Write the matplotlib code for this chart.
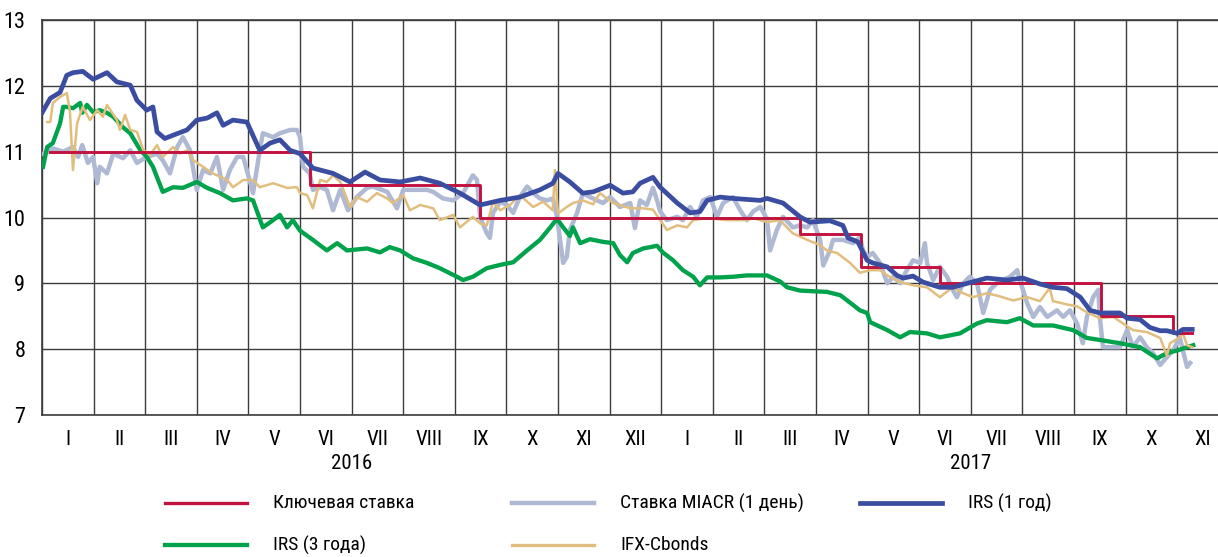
import matplotlib
matplotlib.use("Agg")
import matplotlib.pyplot as plt
from matplotlib.lines import Line2D
from matplotlib import font_manager

# month positions: 0 = start of Jan 2016, 12 = start of Jan 2017
key_m = [0.15, 5.19, 8.49, 14.69, 15.87, 17.40, 20.52, 21.92, 22.29]
key_v = [11.0, 10.5, 10.0, 9.75, 9.25, 9.0, 8.5, 8.25, 8.25]

miacr_m = [0.02, 0.21, 0.41, 0.6, 0.7, 0.78, 0.89, 0.99, 1.07, 1.12, 1.26, 1.38,
           1.57, 1.71, 1.84, 2.03, 2.23, 2.34, 2.48, 2.62, 2.73, 2.87, 3.0, 3.12,
           3.26, 3.39, 3.51, 3.64, 3.78, 3.9, 4.09, 4.22, 4.28, 4.48, 4.61, 4.81,
           4.94, 5.0, 5.06, 5.19, 5.25, 5.39, 5.52, 5.64, 5.78, 5.93, 6.1, 6.3,
           6.41, 6.69, 6.88, 7.0, 7.19, 7.46, 7.58, 7.77, 7.97, 8.16, 8.35, 8.43,
           8.49, 8.62, 8.68, 8.74, 8.88, 9.01, 9.13, 9.26, 9.4, 9.52, 9.65, 9.79,
           9.9, 9.98, 10.04, 10.1, 10.17, 10.23, 10.37, 10.48, 10.62, 10.76, 10.87,
           11.01, 11.2, 11.4, 11.49, 11.59, 11.72, 11.84, 11.92, 11.98, 12.11,
           12.31, 12.42, 12.56, 12.69, 12.81, 12.95, 13.08, 13.2, 13.39, 13.53,
           13.66, 13.78, 13.92, 14.05, 14.11, 14.24, 14.36, 14.55, 14.69, 14.83,
           14.94, 15.08, 15.14, 15.27, 15.33, 15.52, 15.72, 15.85, 15.91, 15.99,
           16.1, 16.24, 16.38, 16.5, 16.63, 16.76, 16.88, 17.02, 17.11, 17.15,
           17.27, 17.4, 17.54, 17.65, 17.73, 17.85, 17.98, 18.12, 18.24, 18.37,
           18.5, 18.62, 18.76, 18.9, 18.95, 19.09, 19.21, 19.34, 19.48, 19.67,
           19.79, 19.92, 20.06, 20.17, 20.25, 20.37, 20.47, 20.5, 20.56, 20.76,
           20.89, 21.03, 21.14, 21.28, 21.41, 21.53, 21.67, 21.8, 21.92, 22.05,
           22.11, 22.19, 22.25]
miacr_v = [10.97, 11.05, 11.0, 11.07, 10.92, 11.1, 10.83, 10.92, 10.52, 10.77, 10.67, 10.97,
           10.9, 11.02, 10.83, 10.92, 10.97, 10.87, 10.67, 11.07, 11.22, 11.02, 10.42, 10.72,
           10.67, 10.92, 10.42, 10.72, 10.92, 10.92, 10.37, 11.02, 11.28, 11.22, 11.28, 11.33,
           11.33, 11.22, 10.77, 10.67, 10.42, 10.46, 10.42, 10.11, 10.42, 10.11, 10.31, 10.45,
           10.47, 10.39, 10.14, 10.42, 10.42, 10.42, 10.39, 10.29, 10.26, 10.37, 10.64, 10.57,
           10.01, 9.76, 9.69, 10.07, 10.24, 10.19, 10.07, 10.31, 10.47, 10.37, 10.29, 10.26,
           10.29, 10.01, 9.66, 9.31, 9.4, 9.81, 10.07, 10.37, 10.31, 10.26, 10.22,
           10.31, 10.16, 10.22, 9.84, 10.26, 10.19, 10.45, 10.26, 10.09, 9.96,
           10.01, 9.96, 10.16, 10.01, 10.26, 10.31, 10.01, 10.22, 10.31, 10.11,
           9.96, 10.09, 10.16, 9.98, 9.5, 9.81, 10.01, 9.85, 9.88, 9.85,
           9.96, 9.66, 9.27, 9.5, 9.66, 9.66, 9.61, 9.7, 9.5, 9.4,
           9.46, 9.31, 9.0, 9.1, 9.0, 9.2, 9.35, 9.31, 9.61, 9.31,
           9.05, 9.25, 9.1, 8.9, 8.79, 9.0, 9.1, 9.0, 8.55, 8.9,
           9.0, 9.05, 9.1, 9.2, 9.05, 8.7, 8.49, 8.64, 8.49, 8.59,
           8.49, 8.59, 8.39, 8.09, 8.49, 8.79, 8.9, 8.49, 8.03, 8.03,
           8.03, 8.29, 8.03, 8.18, 8.03, 7.94, 7.76, 7.88, 7.98, 8.18,
           7.98, 7.73, 7.79]

irs1_m = [0.0, 0.16, 0.35, 0.48, 0.6, 0.79, 0.99, 1.26, 1.45, 1.71, 1.84, 2.03, 2.15,
          2.23, 2.38, 2.54, 2.81, 3.0, 3.2, 3.39, 3.51, 3.7, 3.97, 4.22, 4.42, 4.61,
          4.81, 5.0, 5.25, 5.64, 5.97, 6.26, 6.55, 6.94, 7.33, 7.71, 8.1, 8.49, 8.88,
          9.26, 9.65, 9.9, 10.0, 10.23, 10.48, 10.68, 11.01, 11.26, 11.45, 11.59,
          11.84, 11.98, 12.31, 12.56, 12.75, 12.89, 13.14, 13.39, 13.92, 14.05, 14.36,
          14.69, 14.88, 15.27, 15.52, 15.62, 15.81, 15.99, 16.1, 16.38, 16.57, 16.69,
          16.88, 17.07, 17.4, 17.65, 17.93, 18.31, 18.7, 19.01, 19.34, 19.59, 19.86,
          20.12, 20.31, 20.5, 20.89, 21.03, 21.28, 21.47, 21.67, 21.8, 22.0, 22.11, 22.29]
irs1_v = [11.59, 11.81, 11.9, 12.16, 12.2, 12.22, 12.1, 12.2, 12.06, 12.01, 11.78, 11.63, 11.68,
          11.3, 11.2, 11.25, 11.33, 11.48, 11.51, 11.59, 11.4, 11.48, 11.45, 11.02, 11.13, 11.18,
          11.02, 10.97, 10.75, 10.67, 10.54, 10.69, 10.57, 10.54, 10.6, 10.52, 10.37, 10.19, 10.26,
          10.31, 10.42, 10.52, 10.67, 10.54, 10.37, 10.39, 10.49, 10.37, 10.39, 10.52,
          10.61, 10.46, 10.22, 10.07, 10.09, 10.26, 10.31, 10.29, 10.26, 10.29, 10.22,
          10.01, 9.93, 9.95, 9.88, 9.69, 9.63, 9.35, 9.31, 9.25, 9.12, 9.08,
          9.11, 9.02, 8.94, 8.94, 9.0, 9.08, 9.05, 9.08, 8.99, 8.94, 8.92,
          8.79, 8.59, 8.55, 8.55, 8.47, 8.45, 8.33, 8.28, 8.28, 8.24, 8.3, 8.3]

irs3_m = [0.02, 0.1, 0.21, 0.35, 0.41, 0.48, 0.6, 0.74, 0.78, 0.87, 0.99, 1.12, 1.26,
          1.38, 1.57, 1.71, 1.9, 2.03, 2.15, 2.34, 2.54, 2.73, 3.0, 3.2, 3.45, 3.7,
          3.97, 4.09, 4.28, 4.48, 4.61, 4.75, 4.86, 5.0, 5.25, 5.52, 5.72, 5.91, 6.3,
          6.55, 6.74, 6.94, 7.19, 7.46, 7.71, 8.04, 8.16, 8.35, 8.62, 8.88, 9.13, 9.4,
          9.65, 9.84, 9.98, 10.1, 10.23, 10.29, 10.43, 10.62, 10.87, 11.07, 11.2,
          11.34, 11.45, 11.65, 11.92, 12.03, 12.23, 12.42, 12.62, 12.75, 12.89, 13.14,
          13.39, 13.66, 14.05, 14.3, 14.44, 14.69, 14.94, 15.21, 15.47, 15.72, 15.85,
          15.99, 16.05, 16.38, 16.63, 16.82, 17.15, 17.4, 17.79, 18.12, 18.31, 18.7,
          18.95, 19.21, 19.59, 19.98, 20.25, 20.5, 20.89, 21.28, 21.61, 21.8, 22.0,
          22.19, 22.31]
irs3_v = [10.77, 11.07, 11.13, 11.43, 11.68, 11.68, 11.66, 11.74, 11.59, 11.71, 11.6, 11.63, 11.59,
          11.53, 11.37, 11.28, 11.03, 10.92, 10.77, 10.39, 10.46, 10.45, 10.54, 10.45, 10.37, 10.26,
          10.29, 10.26, 9.85, 9.96, 10.04, 9.85, 9.96, 9.8, 9.66, 9.5, 9.61, 9.5, 9.53,
          9.47, 9.55, 9.5, 9.38, 9.31, 9.23, 9.1, 9.05, 9.1, 9.23, 9.28, 9.32, 9.5,
          9.66, 9.84, 9.98, 9.85, 9.72, 9.85, 9.61, 9.67, 9.63, 9.61, 9.43,
          9.32, 9.46, 9.53, 9.57, 9.47, 9.35, 9.2, 9.1, 8.97, 9.09, 9.09,
          9.1, 9.12, 9.12, 9.03, 8.94, 8.89, 8.88, 8.87, 8.82, 8.67, 8.59,
          8.55, 8.41, 8.29, 8.18, 8.26, 8.24, 8.18, 8.24, 8.39, 8.44, 8.41,
          8.47, 8.36, 8.36, 8.29, 8.17, 8.14, 8.09, 8.03, 7.86, 7.94, 7.98,
          8.03, 8.06]

ifx_m = [0.1, 0.16, 0.21, 0.35, 0.48, 0.54, 0.6, 0.68, 0.79, 0.93, 1.07, 1.18, 1.26,
         1.45, 1.51, 1.61, 1.71, 1.84, 1.96, 2.09, 2.23, 2.34, 2.54, 2.67, 2.81, 2.93,
         3.12, 3.31, 3.59, 3.7, 3.9, 4.09, 4.22, 4.48, 4.75, 4.94, 5.0, 5.14, 5.25,
         5.39, 5.52, 5.64, 5.78, 5.97, 6.1, 6.3, 6.49, 6.69, 6.8, 7.0, 7.13, 7.33,
         7.58, 7.71, 7.97, 8.1, 8.35, 8.49, 8.62, 8.74, 8.88, 9.07, 9.26, 9.52, 9.71,
         9.9, 9.94, 10.0, 10.17, 10.29, 10.48, 10.68, 10.81, 11.07, 11.4, 11.65, 11.84,
         11.98, 12.11, 12.31, 12.5, 12.62, 12.89, 13.28, 13.66, 13.78, 14.05, 14.3,
         14.55, 14.83, 15.08, 15.21, 15.41, 15.66, 15.85, 16.05, 16.24, 16.38, 16.63,
         16.88, 17.15, 17.4, 17.65, 17.85, 18.04, 18.31, 18.57, 18.82, 19.09, 19.34,
         19.53, 19.59, 19.86, 20.06, 20.25, 20.5, 20.76, 20.95, 21.14, 21.41, 21.67,
         21.8, 21.86, 22.05, 22.11, 22.19, 22.29]
ifx_v = [11.45, 11.45, 11.74, 11.83, 11.89, 11.63, 10.72, 11.43, 11.68, 11.48, 11.63, 11.53, 11.71,
         11.48, 11.33, 11.56, 11.33, 11.3, 11.03, 10.95, 11.1, 10.92, 11.07, 10.97, 11.02, 10.87,
         10.77, 10.67, 10.57, 10.46, 10.57, 10.57, 10.46, 10.52, 10.45, 10.46, 10.37, 10.34, 10.14,
         10.57, 10.54, 10.64, 10.54, 10.16, 10.31, 10.24, 10.37, 10.29, 10.22, 10.34, 10.11, 10.19,
         10.14, 9.96, 10.04, 9.85, 10.01, 9.91, 9.88, 10.24, 10.11, 10.19, 10.34, 10.16, 10.24,
         10.11, 10.72, 10.06, 10.16, 10.22, 10.26, 10.2, 10.37, 10.22, 10.14, 10.14, 10.12,
         9.96, 9.81, 9.88, 9.85, 9.96, 9.99, 9.96, 9.96, 9.99, 9.93, 9.96,
         9.76, 9.66, 9.58, 9.5, 9.46, 9.31, 9.16, 9.2, 9.2, 9.12, 9.02,
         8.97, 8.94, 8.79, 8.94, 8.85, 8.79, 8.85, 8.8, 8.74, 8.79, 8.73,
         8.93, 8.73, 8.68, 8.65, 8.56, 8.47, 8.49, 8.39, 8.29, 8.26, 8.17,
         7.9, 8.09, 8.18, 8.24, 8.06, 8.03]

month_labels = ["I", "II", "III", "IV", "V", "VI", "VII", "VIII", "IX", "X", "XI", "XII",
                "I", "II", "III", "IV", "V", "VI", "VII", "VIII", "IX", "X", "XI"]
year_labels = ["2016", "2017"]
year_pos = [6, 18]

names = {
    "key": "Ключевая ставка",
    "miacr": "Ставка MIACR (1 день)",
    "irs1": "IRS (1 год)",
    "irs3": "IRS (3 года)",
    "ifx": "IFX-Cbonds",
}
colors = {
    "key": "#C2123F",
    "miacr": "#AFB9D3",
    "irs1": "#3A4DA0",
    "irs3": "#00A24B",
    "ifx": "#E2BE7E",
}
widths = {"key": 2.1, "miacr": 3.2, "irs1": 3.4, "irs3": 3.1, "ifx": 1.8}


def pick_font():
    avail = {f.name for f in font_manager.fontManager.ttflist}
    for name in ["Liberation Sans Narrow", "Roboto Condensed", "DejaVu Sans"]:
        if name in avail:
            return name
    return "DejaVu Sans"


def main():
    plt.rcParams["font.family"] = [pick_font(), "DejaVu Sans"]
    fig = plt.figure(figsize=(12.18, 5.57), dpi=100)
    ax = fig.add_axes([42 / 1218, 1 - 415 / 557, 1 - 42 / 1218, 395 / 557])

    grid_c = "#3c3c3c"
    ax.set_xlim(0, 22.79)
    ax.set_ylim(7, 13)
    ax.set_xticks(range(0, 23))
    ax.set_xticklabels([])
    ax.set_xticks([i + 0.5 for i in range(len(month_labels))], minor=True)
    ax.set_xticklabels(month_labels, minor=True, fontsize=15)
    ax.set_yticks(range(7, 14))
    ax.set_yticklabels([str(v) for v in range(7, 14)], fontsize=16)
    ax.tick_params(axis="both", which="both", length=0)
    ax.tick_params(axis="x", which="minor", pad=11)
    ax.tick_params(axis="y", pad=12)
    ax.grid(True, which="major", color=grid_c, lw=1.0)
    ax.spines["right"].set_visible(False)
    for s in ["left", "bottom", "top"]:
        ax.spines[s].set_color(grid_c)
        ax.spines[s].set_linewidth(1.2)

    ax.plot(miacr_m, miacr_v, color=colors["miacr"], lw=widths["miacr"], zorder=3)
    ax.plot(irs3_m, irs3_v, color=colors["irs3"], lw=widths["irs3"], zorder=4)
    ax.plot(ifx_m, ifx_v, color=colors["ifx"], lw=widths["ifx"], zorder=5)
    ax.step(key_m, key_v, where="post", color=colors["key"], lw=widths["key"], zorder=6)
    ax.plot(irs1_m, irs1_v, color=colors["irs1"], lw=widths["irs1"], zorder=7)

    for lab, pos in zip(year_labels, year_pos):
        ax.text(pos, -0.122, lab, transform=ax.get_xaxis_transform(),
                ha="center", va="center", fontsize=15)

    # legend, drawn by hand to keep the column positions
    entries = [("key", 165, 503), ("miacr", 512, 503), ("irs1", 860, 503),
               ("irs3", 165, 545), ("ifx", 512, 545)]
    for key, x0, y0 in entries:
        yf = 1 - y0 / 557
        fig.add_artist(Line2D([x0 / 1218, (x0 + 82) / 1218], [yf, yf],
                              color=colors[key], lw=max(widths[key], 2.4),
                              transform=fig.transFigure))
        fig.text((x0 + 108) / 1218, yf, names[key], ha="left", va="center",
                 fontsize=14)

    fig.savefig("out.png", dpi=100)


if __name__ == "__main__":
    main()
